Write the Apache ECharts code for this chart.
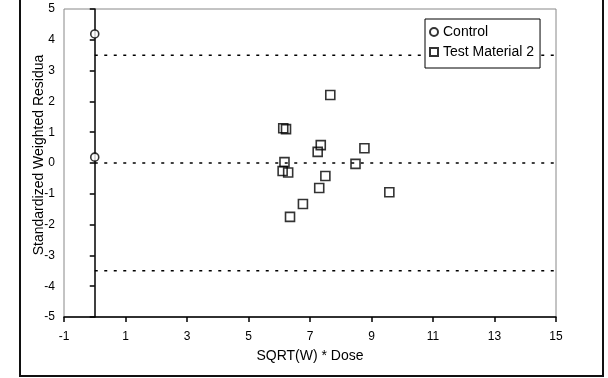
<!DOCTYPE html>
<html>
<head>
<meta charset="utf-8">
<script src="https://cdn.jsdelivr.net/npm/echarts@6/dist/echarts.min.js"></script>
<style>
  html, body { margin: 0; padding: 0; background: #fff; }
  #chart { width: 608px; height: 378px; }
</style>
</head>
<body>
<div id="chart"></div>
<script>
const controlX = [0, 0];
const controlY = [4.19, 0.19];

const testX = [7.66, 6.13, 6.22, 7.35, 7.25, 8.77, 6.17, 8.48, 6.11, 6.29, 7.5, 7.3, 9.58, 6.77, 6.35];
const testY = [2.21, 1.13, 1.1, 0.58, 0.36, 0.48, 0.03, -0.03, -0.26, -0.31, -0.42, -0.81, -0.95, -1.33, -1.75];

const refLevels = [3.5, 0, -3.5];
const refXRange = [0, 15];

const xTicks = { min: -1, max: 15, interval: 2 };
const yTicks = { min: -5, max: 5, interval: 1 };

const font = "Liberation Sans, Arial, sans-serif";

function zip(xs, ys) {
  return xs.map((x, i) => [x, ys[i]]);
}

const refSeries = refLevels.map((lvl) => ({
  type: "line",
  data: refXRange.map((x) => [x, lvl]),
  symbol: "none",
  silent: true,
  lineStyle: { color: "#000", width: 1.5, type: [3, 6.5] },
  z: 1,
}));

const chart = echarts.init(document.getElementById("chart"));
chart.setOption({
  animation: false,
  grid: {
    left: 64, right: 52, top: 9, bottom: 61,
    show: true, borderColor: "#888", borderWidth: 1,
  },
  legend: {
    data: ["Control", "Test Material 2"],
    orient: "vertical",
    left: 425, top: 19,
    padding: [6, 6, 9, 4],
    itemGap: 6,
    itemWidth: 8, itemHeight: 8,
    itemTextGap: 3,
    backgroundColor: "#fff",
    borderColor: "#000",
    borderWidth: 1,
    borderRadius: 0,
    textStyle: { fontFamily: font, fontSize: 14, color: "#000", lineHeight: 14 },
  },
  xAxis: {
    type: "value",
    min: xTicks.min, max: xTicks.max, interval: xTicks.interval,
    name: "SQRT(W) * Dose",
    nameLocation: "middle",
    nameGap: 32,
    nameTextStyle: { fontFamily: font, fontSize: 14, color: "#000" },
    axisLine: { onZero: false, lineStyle: { color: "#000", width: 1.5 } },
    axisTick: { length: 5, lineStyle: { color: "#000", width: 1.5 } },
    axisLabel: { margin: 14, fontFamily: font, fontSize: 12, color: "#000" },
    splitLine: { show: false },
  },
  yAxis: {
    type: "value",
    min: yTicks.min, max: yTicks.max, interval: yTicks.interval,
    axisLine: { onZero: true, lineStyle: { color: "#000", width: 1.5 } },
    axisTick: { length: 5, lineStyle: { color: "#000", width: 1.5 } },
    axisLabel: { margin: 9, fontFamily: font, fontSize: 12, color: "#000" },
    splitLine: { show: false },
  },
  graphic: [
    {
      type: "rect",
      shape: { x: 20, y: -10, width: 583, height: 386 },
      style: { fill: null, stroke: "#111", lineWidth: 2 },
      silent: true,
    },
    {
      type: "text",
      x: 39, y: 155,
      rotation: Math.PI / 2,
      style: {
        text: "Standardized Weighted Residua",
        font: "14px " + font,
        fill: "#000",
        align: "center",
        verticalAlign: "middle",
      },
    },
  ],
  series: [
    ...refSeries,
    {
      name: "Control",
      type: "scatter",
      symbol: "circle",
      symbolSize: 8,
      data: zip(controlX, controlY),
      itemStyle: { color: "#fff", borderColor: "#000", borderWidth: 1.6 },
      z: 3,
    },
    {
      name: "Test Material 2",
      type: "scatter",
      symbol: "rect",
      symbolSize: 9,
      data: zip(testX, testY),
      itemStyle: { color: "rgba(255,255,255,0)", borderColor: "#000", borderWidth: 1.6 },
      z: 3,
    },
  ],
});
</script>
</body>
</html>
